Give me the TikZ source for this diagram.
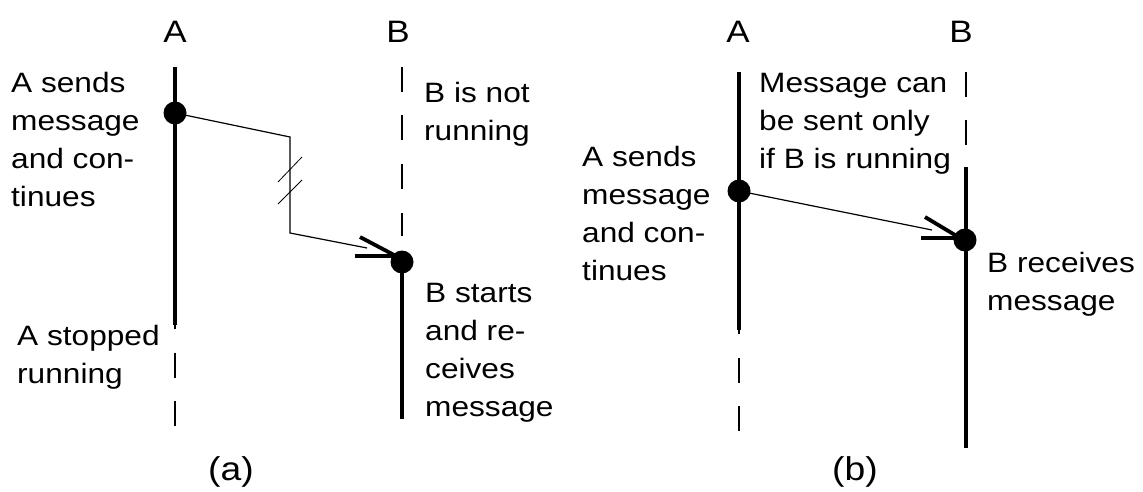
\documentclass[tikz,border=0pt]{standalone}
\usepackage{fontspec}
\setmainfont[FakeStretch=1.13]{Liberation Sans}
\begin{document}
\begin{tikzpicture}[x=1pt,y=-1pt,
  life/.style={line width=3.6pt},
  idle/.style={line width=1.4pt, dash pattern=on 25pt off 23.5pt},
  msg/.style={line width=1.2pt},
  hook/.style={line width=3.8pt},
  brk/.style={line width=0.8pt},
  dot/.style={circle, fill=black, inner sep=0pt, minimum size=23pt},
  lbl/.style={font=\fontsize{28}{38}\selectfont, align=left, anchor=base west, inner sep=0pt},
  hdr/.style={font=\fontsize{31}{31}\selectfont, anchor=base, inner sep=0pt},
  subcap/.style={font=\fontsize{33}{34}\selectfont, anchor=base, inner sep=0pt}]
\useasboundingbox (0,0) rectangle (1143,492);

% ---------- panel (a) ----------
\node[hdr] (aA) at (175,43) {A};
\node[hdr] (aB) at (398,43) {B};
\coordinate (aAtop) at (175,67);
\coordinate (aAend) at (175,325);
\coordinate (aAlow) at (175,427);
\node[dot] (aAdot) at (175,113) {};
\draw[life] (aAtop) -- (aAend);
\draw[idle, dash phase=21pt] (aAend) -- (aAlow);

\coordinate (aBtop) at (402,67);
\coordinate (aBidle) at (402,236);
\coordinate (aBend) at (402,419);
\node[dot] (aBdot) at (402,262) {};
\draw[idle] (aBtop) -- (aBidle);
\draw[life] (aBdot.center) -- (aBend);

\coordinate (aM1) at (290,137);
\coordinate (aM2) at (290,233);
\coordinate (aM3) at (367,248);
\draw[msg] (aAdot.center) -- (aM1) -- (aM2) -- (aM3);
\coordinate (aK1a) at (278,182); \coordinate (aK1b) at (302,157);
\coordinate (aK2a) at (278,204); \coordinate (aK2b) at (302,180);
\draw[brk] (aK1a) -- (aK1b);
\draw[brk] (aK2a) -- (aK2b);
\coordinate (aH1) at (360,237);
\coordinate (aH2) at (355,256);
\coordinate (aH1e) at (396,256);
\coordinate (aH2e) at (396,256);
\draw[hook] (aH1) -- (aH1e);
\draw[hook] (aH2) -- (aH2e);

\node[lbl] (aT1) at (11,206) {A sends\\message\\and con-\\tinues};
\node[lbl] (aT2) at (17,383) {A stopped\\running};
\node[lbl] (aT3) at (424,141) {B is not\\running};
\node[lbl] (aT4) at (425,416) {B starts\\and re-\\ceives\\message};
\node[subcap] (aCap) at (231,480) {(a)};

% ---------- panel (b) ----------
\node[hdr] (bA) at (738,43) {A};
\node[hdr] (bB) at (961,43) {B};
\coordinate (bAtop) at (739,72);
\coordinate (bAend) at (739,330);
\coordinate (bAlow) at (739,432);
\node[dot] (bAdot) at (739,191) {};
\draw[life] (bAtop) -- (bAend);
\draw[idle, dash phase=21pt] (bAend) -- (bAlow);

\coordinate (bBtop) at (966,72);
\coordinate (bBidle) at (966,145);
\coordinate (bBstart) at (966,167);
\coordinate (bBend) at (966,448);
\node[dot] (bBdot) at (965,240) {};
\draw[idle] (bBtop) -- (bBidle);
\draw[life] (bBstart) -- (bBend);

\coordinate (bM1) at (932,230);
\draw[msg] (bAdot.center) -- (bM1);
\coordinate (bH1) at (925,217);
\coordinate (bH2) at (921,238);
\coordinate (bH1e) at (960,238);
\coordinate (bH2e) at (960,238);
\draw[hook] (bH1) -- (bH1e);
\draw[hook] (bH2) -- (bH2e);

\node[lbl] (bT1) at (759,168) {Message can\\be sent only\\if B is running};
\node[lbl] (bT2) at (582,280) {A sends\\message\\and con-\\tinues};
\node[lbl] (bT3) at (987,310) {B receives\\message};
\node[subcap] (bCap) at (855,480) {(b)};
\end{tikzpicture}
\end{document}
